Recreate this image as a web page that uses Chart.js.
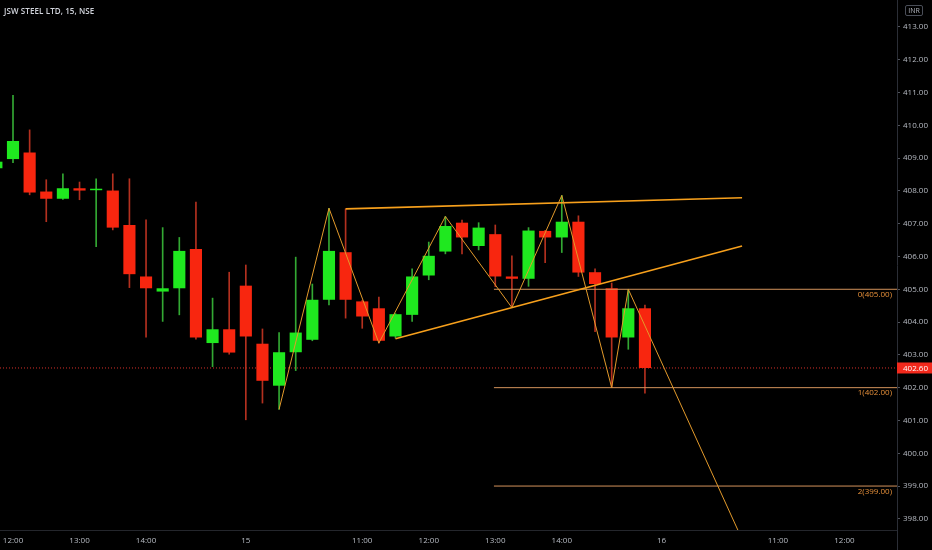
<!DOCTYPE html>
<html>
<head>
<meta charset="utf-8">
<script src="https://cdn.jsdelivr.net/npm/chart.js@4.4.1/dist/chart.umd.min.js"></script>
<style>
html,body{margin:0;padding:0;background:#000;}
#wrap{position:relative;width:932px;height:550px;background:#000;overflow:hidden;}
canvas{display:block;}
#title{position:absolute;left:4px;top:5px;font:600 8px "Open Sans","Liberation Sans",sans-serif;color:#d1d4dc;white-space:nowrap;letter-spacing:0.1px;}
#inr{position:absolute;left:905px;top:5px;width:16px;height:9px;border:1px solid #4a4e58;border-radius:2px;font:7px "Open Sans","Liberation Sans",sans-serif;color:#b2b5be;text-align:center;line-height:9px;}
</style>
</head>
<body>
<div id="wrap">
<canvas id="c" width="932" height="550"></canvas>
<div id="title">JSW STEEL LTD, 15, NSE</div>
<div id="inr">INR</div>
</div>
<script>
// ---- candle data (15-minute bars, index = bar slot) ----
const candleIndex = [0,1,2,3,4,5,6,7,8,9,10,11,12,13,14,15,16,17,18,19,20,21,22,23,24,25,26,27,28,29,30,31,32,33,34,35,36,37,38,39];
const opens  = [408.69,408.97,409.17,407.98,407.76,408.08,408.02,408.01,406.96,405.39,404.93,405.03,406.23,403.36,403.78,405.11,403.34,402.06,403.08,403.46,404.68,406.13,404.63,404.42,403.56,404.22,405.42,406.15,407.03,406.32,406.68,405.39,405.32,406.78,406.58,407.06,405.52,405.03,403.53,404.42];
const highs  = [408.95,410.91,409.86,408.34,408.52,408.27,408.37,408.52,408.37,407.12,406.88,406.58,407.66,404.73,405.52,405.74,403.79,403.68,405.98,405.16,407.47,407.45,404.66,404.76,404.26,405.62,406.44,407.22,407.11,407.03,406.96,406.02,406.88,406.80,407.86,407.24,405.62,405.19,405.00,404.52];
const lows   = [408.60,408.86,407.88,407.06,407.74,407.73,406.30,406.81,405.05,403.54,404.02,404.22,403.48,402.64,403.02,401.02,401.53,401.34,402.52,403.43,404.52,404.12,403.81,403.36,403.51,404.02,405.29,406.08,406.08,406.20,405.08,404.44,405.09,405.81,406.12,405.39,403.71,402.00,403.17,401.83];
const closes = [408.89,409.52,407.95,407.76,408.08,408.01,408.04,406.88,405.46,405.03,405.03,406.17,403.53,403.78,403.07,403.56,402.21,403.08,403.68,404.68,406.17,404.68,404.17,403.43,404.24,405.39,406.02,406.93,406.58,406.88,405.39,405.32,406.79,406.58,407.06,405.51,405.16,403.53,404.42,402.60];

// ---- axis ----
const yTicks = [398,399,400,401,402,403,404,405,406,407,408,409,410,411,412,413];
const xTickIndex  = [1,5,9,15,22,26,30,34,40,47,51];
const xTickLabels = ['12:00','13:00','14:00','15','11:00','12:00','13:00','14:00','16','11:00','12:00'];
const xRange = [0.218, 54.157];
const yRange = [397.66, 413.82];

// ---- drawings ----
const zigzagX = [17, 20, 23, 27, 31, 34, 37, 38, 45];
const zigzagY = [401.34, 407.47, 403.36, 407.22, 404.44, 407.86, 402.00, 405.00, 397.20];
const upperTrendX = [21, 44.84];
const upperTrendY = [407.45, 407.79];
const lowerTrendX = [24, 44.84];
const lowerTrendY = [403.49, 406.32];
const fibStart = 29.92;
const fibRatios = [0, 1, 2];
const fibLevels = [405.00, 402.00, 399.00];
const lastPrice = 402.60;

const GREEN = '#1fe81f', RED = '#f8260f';
const GREEN_WICK = '#33a833', RED_WICK = '#b3301f';
const AXIS_TEXT = '#b8bcc4';
const FONT = '"Open Sans","Liberation Sans",sans-serif';

const pts = (xs, ys) => xs.map((x, k) => ({x: x, y: ys[k]}));
const up = candleIndex.map(i => closes[i] >= opens[i]);

const lineDatasets = [
  {type:'line', data: pts(zigzagX, zigzagY), borderColor:'#e39a2b', borderWidth:1, pointRadius:0, tension:0, fill:false, order:0},
  {type:'line', data: pts(upperTrendX, upperTrendY), borderColor:'#f7a01c', borderWidth:1.7, pointRadius:0, tension:0, fill:false, order:0},
  {type:'line', data: pts(lowerTrendX, lowerTrendY), borderColor:'#f7a01c', borderWidth:1.7, pointRadius:0, tension:0, fill:false, order:0}
].concat(fibLevels.map(v => ({
  type:'line', data: pts([fibStart, xRange[1]], [v, v]), borderColor:'#d3935c', borderWidth:1, pointRadius:0, tension:0, fill:false, order:0
})));

const priceLine = {type:'line', data: pts(xRange, [lastPrice, lastPrice]), borderColor:'#d4302a', borderWidth:1, borderDash:[1,2], pointRadius:0, fill:false, order:3};

const wicks = {
  type:'bar', order:2, grouped:false, barThickness:1,
  data: candleIndex.map(i => ({x: i, y: [lows[i], highs[i]]})),
  backgroundColor: candleIndex.map(i => up[i] ? GREEN_WICK : RED_WICK),
  borderWidth:0
};
const bodies = {
  type:'bar', order:1, grouped:false, categoryPercentage:1.0, barPercentage:0.73, minBarLength:1.5,
  data: candleIndex.map(i => ({x: i, y: [opens[i], closes[i]]})),
  backgroundColor: candleIndex.map(i => up[i] ? GREEN : RED),
  borderWidth:0
};

const overlay = {
  id: 'overlay',
  afterDatasetsDraw(chart) {
    const ctx = chart.ctx, y = chart.scales.y, a = chart.chartArea;
    ctx.save();
    ctx.font = '8px ' + FONT;
    ctx.fillStyle = '#e8913a';
    ctx.textAlign = 'right';
    ctx.textBaseline = 'top';
    fibLevels.forEach((v, k) => {
      ctx.fillText(fibRatios[k] + '(' + v.toFixed(2) + ')', a.right - 5, y.getPixelForValue(v) + 1.5);
    });
    ctx.restore();
  },
  afterDraw(chart) {
    const ctx = chart.ctx, y = chart.scales.y, a = chart.chartArea;
    ctx.save();
    // axis separator extension
    ctx.strokeStyle = '#2b2e36';
    ctx.lineWidth = 1;
    ctx.beginPath();
    ctx.moveTo(a.right + 0.5, a.bottom);
    ctx.lineTo(a.right + 0.5, chart.height);
    ctx.stroke();
    // last price label
    const py = y.getPixelForValue(lastPrice);
    ctx.fillStyle = '#f2291c';
    ctx.fillRect(a.right, py - 5.5, chart.width - a.right, 11);
    ctx.font = '8px ' + FONT;
    ctx.fillStyle = '#ffffff';
    ctx.textAlign = 'left';
    ctx.textBaseline = 'middle';
    ctx.fillText(lastPrice.toFixed(2), a.right + 6, py + 0.5);
    ctx.restore();
  }
};

new Chart(document.getElementById('c'), {
  type: 'bar',
  data: { datasets: [...lineDatasets, bodies, wicks, priceLine] },
  options: {
    responsive: false,
    animation: false,
    layout: { padding: 0 },
    plugins: { legend: {display:false}, tooltip: {enabled:false}, title: {display:false} },
    scales: {
      x: {
        type: 'linear', min: xRange[0], max: xRange[1], offset: false,
        grid: { display:false, drawTicks:false, offset:false },
        border: { display:true, color:'#24262c' },
        afterBuildTicks: s => { s.ticks = xTickIndex.map(v => ({value: v})); },
        ticks: {
          color: AXIS_TEXT, font: {size: 8, family: FONT}, padding: 6, maxRotation: 0, autoSkip: false,
          callback: v => { const k = xTickIndex.indexOf(v); return k >= 0 ? xTickLabels[k] : ''; }
        },
        afterFit: s => { s.height = 20; s.paddingLeft = 0; s.paddingRight = 0; }
      },
      y: {
        type: 'linear', position: 'right', min: yRange[0], max: yRange[1],
        grid: { display:true, drawOnChartArea:false, drawTicks:true, tickLength:3, color:'#50535c' },
        border: { display:true, color:'#2b2e36' },
        afterBuildTicks: s => { s.ticks = yTicks.map(v => ({value: v})); },
        ticks: { color: AXIS_TEXT, font: {size: 8, family: FONT}, padding: 3, callback: v => v.toFixed(2) },
        afterFit: s => { s.width = 35; s.paddingTop = 0; s.paddingBottom = 0; }
      }
    }
  },
  plugins: [overlay]
});
</script>
</body>
</html>
